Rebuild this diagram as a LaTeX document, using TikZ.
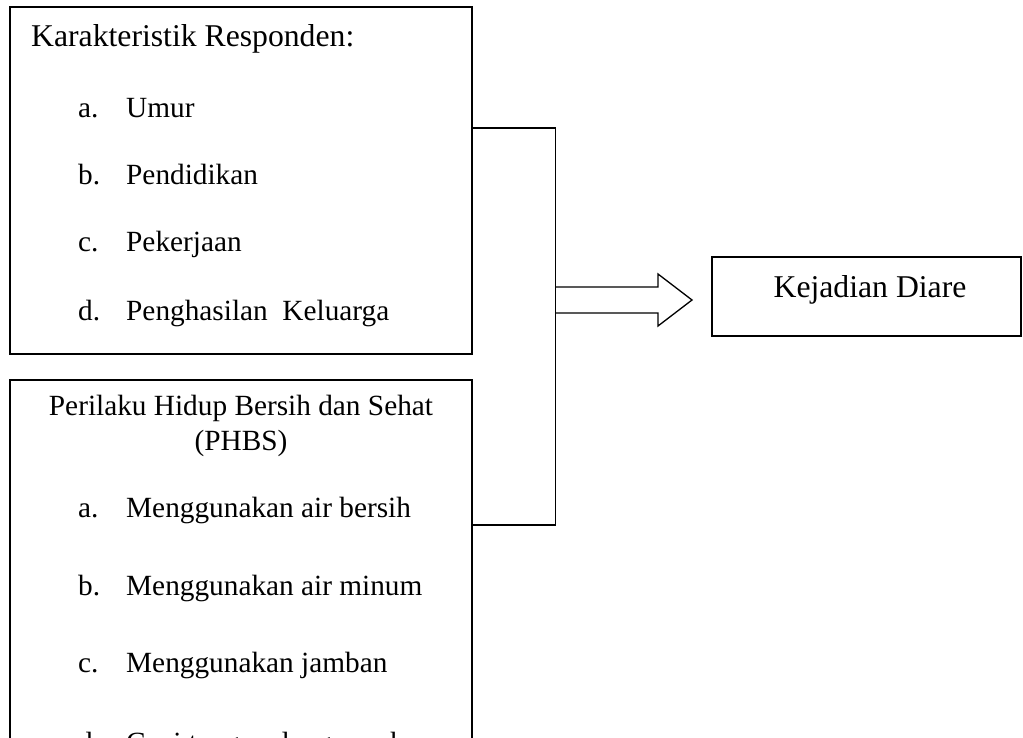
\documentclass[tikz,border=0pt]{standalone}
\usepackage{fontspec}
\setmainfont{Liberation Serif}
\begin{document}
\begin{tikzpicture}[x=1pt,y=-1pt,
  boxline/.style={draw=black,line width=1.6pt,inner sep=0pt,outer sep=0pt},
  joinline/.style={draw=black,line width=1.3pt},
  body/.style={inner sep=0pt,anchor=base west,font=\fontsize{29.3}{35}\selectfont},
  head/.style={inner sep=0pt,font=\fontsize{31.7}{38}\selectfont},
  lbl/.style={inner sep=0pt,anchor=base west,font=\fontsize{29.3}{35}\selectfont}]
\useasboundingbox (0,0) rectangle (1023,738);
\clip (0,0) rectangle (1023,738);
% boxes
\node[boxline,anchor=north west,minimum width=462pt,minimum height=347pt] (box1) at (10,7) {};
\node[boxline,anchor=north west,minimum width=462pt,minimum height=480pt] (box2) at (10,380) {};
\node[boxline,line width=1.9pt,anchor=north west,minimum width=309pt,minimum height=79pt] (out) at (712,257) {};
% box 1 text
\node[head,anchor=base west] (t1) at (31,47) {Karakteristik Responden:};
\node[lbl] (a1) at (78,118) {a.}; \node[body] (i1) at (126,118) {Umur};
\node[lbl] (b1) at (78,185) {b.}; \node[body] (j1t) at (126,185) {Pendidikan};
\node[lbl] (c1) at (78,252) {c.}; \node[body] (k1) at (126,252) {Pekerjaan};
\node[lbl] (d1) at (78,320) {d.}; \node[body] (l1) at (126,320) {Penghasilan\ \ Keluarga};
% box 2 text
\node[body,anchor=base] (t2) at (241,415) {Perilaku Hidup Bersih dan Sehat};
\node[body,anchor=base] (t2b) at (241,450) {(PHBS)};
\node[lbl] (a2) at (78,517) {a.}; \node[body] (i2) at (126,517) {Menggunakan air bersih};
\node[lbl] (b2) at (78,595) {b.}; \node[body] (j2t) at (126,595) {Menggunakan air minum};
\node[lbl] (c2) at (78,672) {c.}; \node[body] (k2) at (126,672) {Menggunakan jamban};
\node[lbl] (d2) at (78,752) {d.}; \node[body] (l2) at (126,752) {Cuci tangan dengan sabun};
% output text
\node[head,anchor=base] (t3) at (870,298) {Kejadian Diare};
% bracket
\coordinate (jt) at (555.5,128);
\coordinate (jb) at (555.5,525);
\draw[joinline] (box1.east |- jt) -- (jt) -- (jb) -- (box2.east |- jb);
% block arrow
\coordinate (as) at (555.5,287);
\coordinate (ae) at (555.5,313);
\draw[joinline,line join=miter] (as) -- (658,287) -- (658,274) -- (692,300) -- (658,326) -- (658,313) -- (ae);
\end{tikzpicture}
\end{document}
